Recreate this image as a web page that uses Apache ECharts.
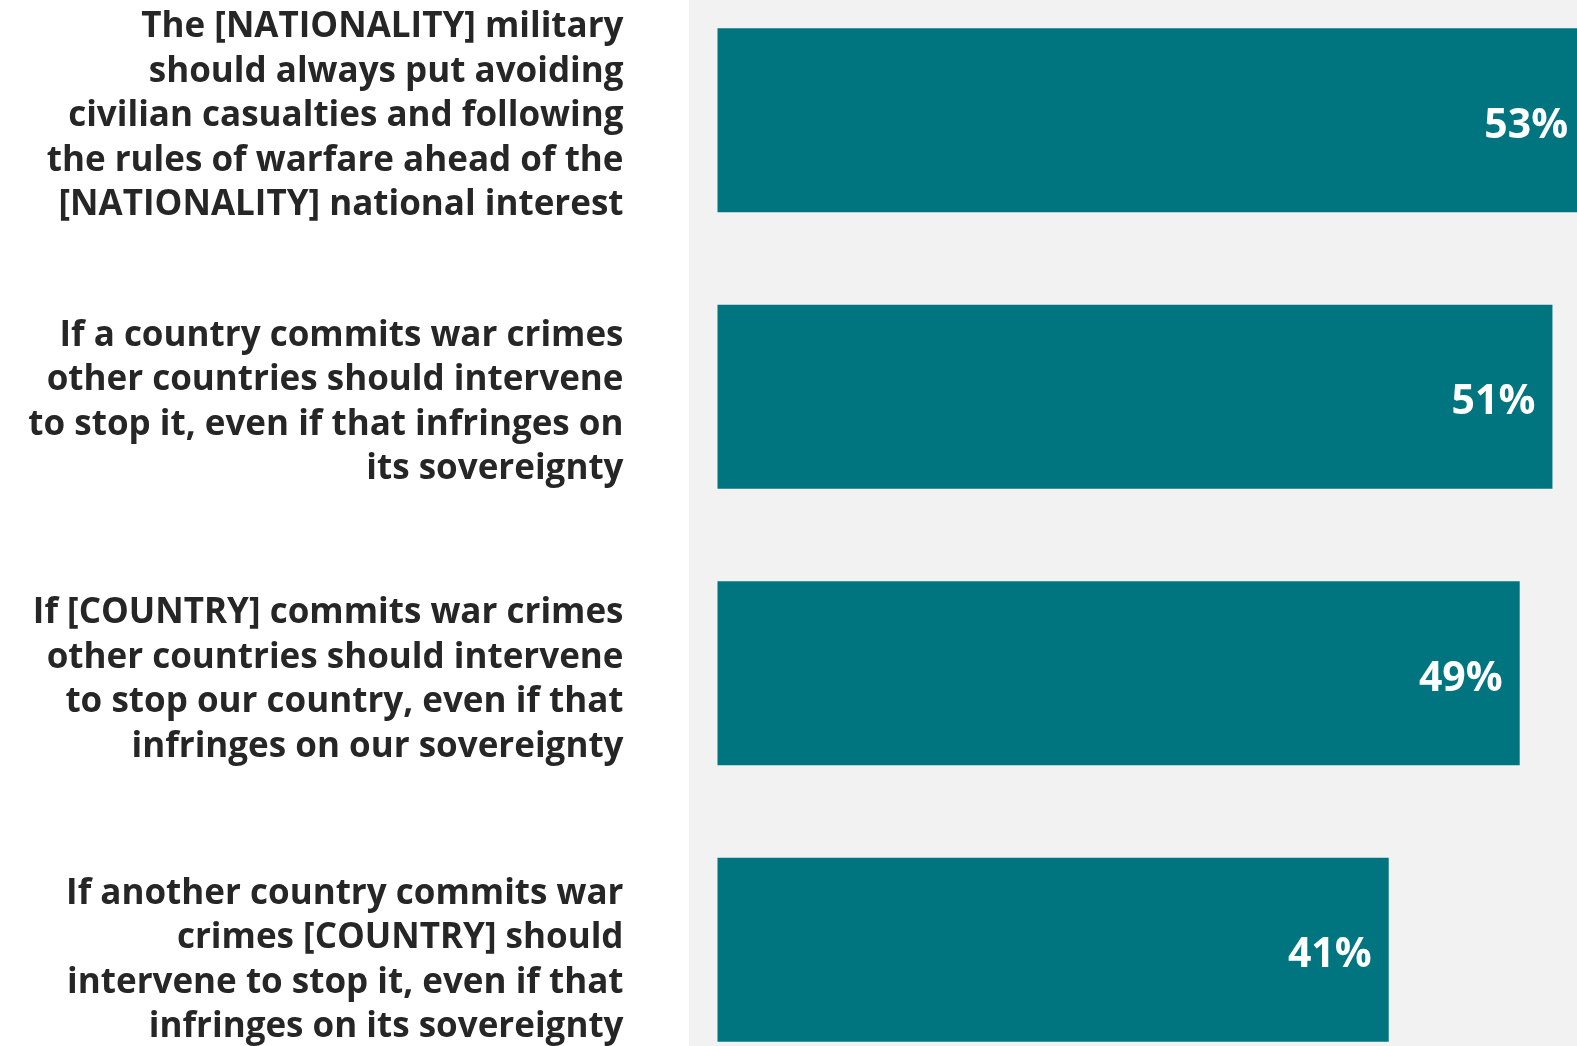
<!DOCTYPE html>
<html><head><meta charset="utf-8">
<script src="https://cdn.jsdelivr.net/npm/echarts@6/dist/echarts.min.js"></script>
<style>html,body{margin:0;padding:0;background:#fff}#c{width:1577px;height:1046px}</style>
</head><body><div id="c"></div>
<script>
const categories = [
  "The [NATIONALITY] military\nshould always put avoiding\ncivilian casualties and following\nthe rules of warfare ahead of the\n[NATIONALITY] national interest",
  "If a country commits war crimes\nother countries should intervene\nto stop it, even if that infringes on\nits sovereignty",
  "If [COUNTRY] commits war crimes\nother countries should intervene\nto stop our country, even if that\ninfringes on our sovereignty",
  "If another country commits war\ncrimes [COUNTRY] should\nintervene to stop it, even if that\ninfringes on its sovereignty"
];
const values = [53, 51, 49, 41];

// vertical nudges for the category labels (styling only): spacer heights above / below
const spacerTop = [0, 12, 14, 22];
const spacerBottom = [8, 0, 0, 0];

const rich = {};
for (let i = 0; i < categories.length; i++) {
  rich['st' + i] = {height: spacerTop[i], lineHeight: spacerTop[i], fontSize: 1};
  rich['sb' + i] = {height: spacerBottom[i], lineHeight: spacerBottom[i], fontSize: 1};
}

const chart = echarts.init(document.getElementById('c'), null, {renderer: 'canvas'});
chart.setOption({
  backgroundColor: '#ffffff',
  animation: false,
  graphic: [{type: 'rect', z: -10, silent: true, shape: {x: 689, y: 0, width: 888, height: 1046}, style: {fill: '#f2f2f2'}}],
  grid: {left: 717.5, width: 859.5, top: -18, height: 1106, containLabel: false, outerBoundsMode: 'none'},
  xAxis: {type: 'value', min: 0, max: 52.5, show: false},
  yAxis: {
    type: 'category', inverse: true, data: categories,
    axisLine: {show: false}, axisTick: {show: false}, splitLine: {show: false},
    axisLabel: {
      margin: 94, align: 'right', fontFamily: 'Open Sans', fontWeight: 'bold', fontSize: 35, lineHeight: 44.5, color: '#262626',
      rich: rich,
      formatter: function (v, i) {
        return (spacerTop[i] ? '{st' + i + '| }\n' : '') + v + (spacerBottom[i] ? '\n{sb' + i + '| }' : '');
      }
    }
  },
  series: [{
    type: 'bar', data: values, barCategoryGap: '33.5%', clip: false,
    itemStyle: {color: '#00757f'},
    label: {show: true, position: 'insideRight', distance: 17, offset: [0, 6], formatter: '{c}%', color: '#ffffff', fontFamily: 'Open Sans', fontWeight: 'bold', fontSize: 41}
  }]
});
</script></body></html>
